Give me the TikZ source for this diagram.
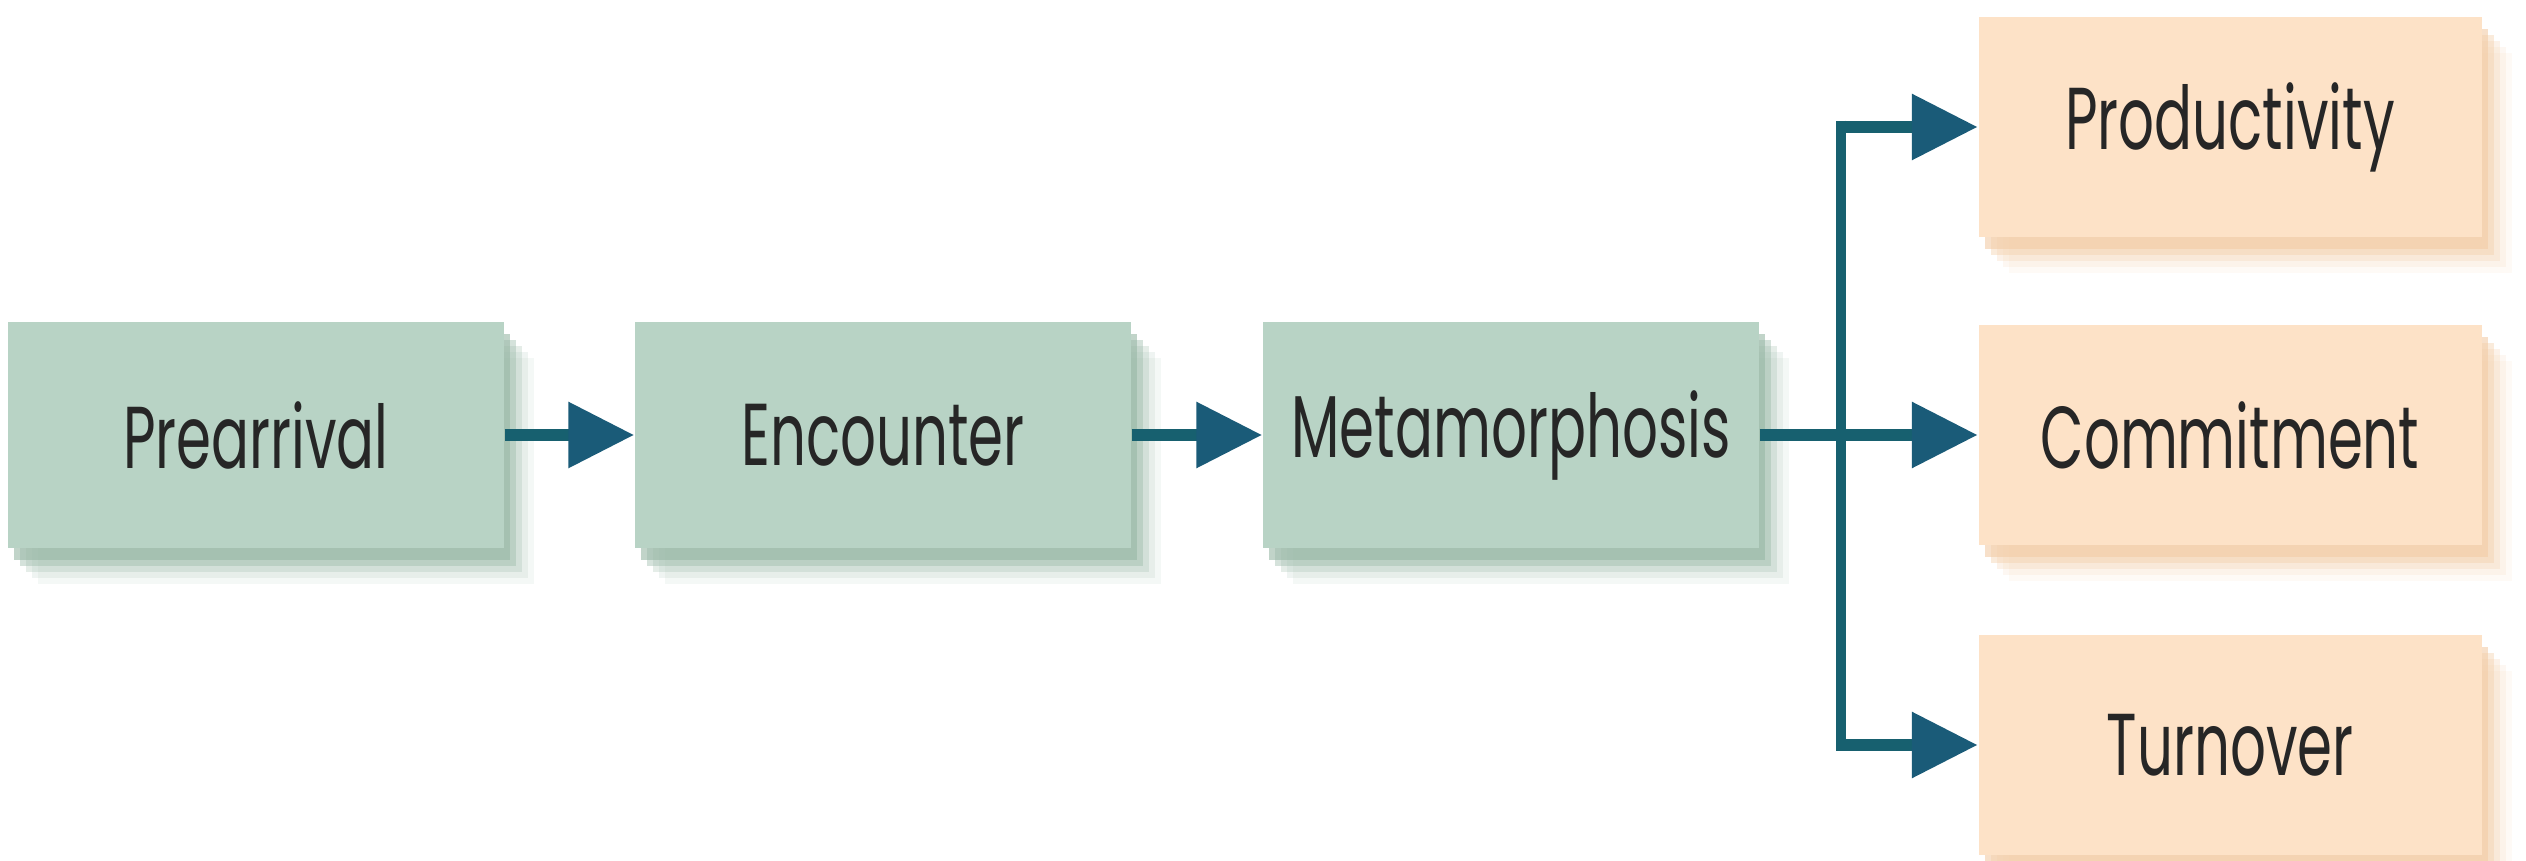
\documentclass[tikz,border=0pt]{standalone}
\usepackage{fontspec}
\setmainfont{Poppins}[FakeStretch=0.64]
\usetikzlibrary{positioning, calc, arrows.meta, shadows}

\definecolor{stagefill}{HTML}{B8D3C5}
\definecolor{stageshade}{HTML}{97B7A5}
\definecolor{outcomefill}{HTML}{FDE2C7}
\definecolor{outcomeshade}{HTML}{F2CCA6}
\definecolor{flowline}{HTML}{17606F}
\definecolor{flowhead}{HTML}{1A5B78}

\tikzset{
  box/.style={draw=none, inner sep=0pt, text=black!85,
    font=\fontsize{25}{30}\selectfont},
  % soft shadow from stacked layers
  softshade/.style={
    drop shadow={fill=#1, opacity=0.10, shadow xshift=0.30cm, shadow yshift=-0.36cm},
    drop shadow={fill=#1, opacity=0.15, shadow xshift=0.24cm, shadow yshift=-0.30cm},
    drop shadow={fill=#1, opacity=0.25, shadow xshift=0.18cm, shadow yshift=-0.24cm},
    drop shadow={fill=#1, opacity=0.40, shadow xshift=0.12cm, shadow yshift=-0.18cm},
    drop shadow={fill=#1, opacity=0.60, shadow xshift=0.06cm, shadow yshift=-0.12cm}},
  stage/.style={box, fill=stagefill, minimum width=4.96cm, minimum height=2.26cm,
    softshade=stageshade},
  outcome/.style={box, fill=outcomefill, minimum width=5.03cm, minimum height=2.2cm,
    softshade=outcomeshade},
  link/.style={draw=flowline, line width=3.6pt},
  flow/.style={link, -{Triangle[length=0.66cm, width=0.63cm, color=flowhead]}},
  trunk/.style={draw=flowline, line width=2.6pt}
}

\begin{document}
\begin{tikzpicture}
    \useasboundingbox (0,0) rectangle (25.26,8.6);
    % socialization stages
    \node[stage] (pre) at (2.56,4.25) {Prearrival};
    \node[stage] (enc) at (8.83,4.25) {Encounter};
    \node[stage] (meta) at (15.11,4.25) {Metamorphosis};
    % outcomes
    \node[outcome] (prod) at (22.30,7.33) {Productivity};
    \node[outcome] (comm) at (22.30,4.25) {Commitment};
    \node[outcome] (turn) at (22.30,1.15) {Turnover};
    \coordinate (split) at (18.41,4.25);
    \coordinate (top) at (split |- prod);
    \coordinate (bot) at (split |- turn);
    \draw[flow] (pre) -- (enc);
    \draw[flow] (enc) -- (meta);
    \draw[link] (meta) -- (split);
    \draw[trunk] ([yshift=1.8pt]top) -- ([yshift=-1.8pt]bot);
    \draw[flow] ([xshift=-1.3pt]top) -- (prod);
    \draw[flow] (split) -- (comm);
    \draw[flow] ([xshift=-1.3pt]bot) -- (turn);
\end{tikzpicture}
\end{document}
